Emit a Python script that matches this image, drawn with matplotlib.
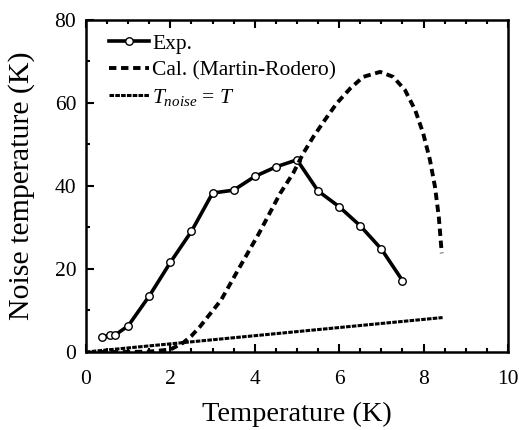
import numpy as np
import matplotlib
matplotlib.use('Agg')
import matplotlib.pyplot as plt
from matplotlib.ticker import MultipleLocator

# ── Data ────────────────────────────────────────────────────────────────
exp_T = [0.37, 0.57, 0.69, 1.0, 1.5, 2.0, 2.5, 3.0, 3.5, 4.0, 4.5, 5.0,
         5.5, 6.0, 6.5, 7.0, 7.5]
exp_noise = [3.5, 4.1, 4.1, 6.3, 13.5, 21.6, 29.1, 38.3, 39.0, 42.3, 44.6,
             46.3, 38.8, 35.0, 30.4, 24.8, 17.2]

cal_T = [0.3, 1.0, 1.5, 2.0, 2.3, 2.5, 2.7, 3.2, 3.65, 4.1, 4.6, 4.91,
         5.15, 5.39, 5.66, 5.94, 6.26, 6.57, 6.97, 7.28, 7.56, 7.80, 7.99,
         8.15, 8.27, 8.36, 8.43]
cal_noise = [0.0, 0.0, 0.1, 0.6, 2.2, 3.9, 6.1, 12.5, 20.6, 28.6, 38.2, 43.1,
             47.9, 51.9, 55.9, 59.9, 63.5, 66.3, 67.5, 66.3, 63.1, 58.3, 52.7,
             46.3, 39.8, 32.6, 23.8]

line_T = [0.0, 8.45]
line_noise = [0.0, 8.3]

plt.rcParams['font.family'] = ['Liberation Serif', 'DejaVu Serif']
plt.rcParams['mathtext.fontset'] = 'custom'
plt.rcParams['mathtext.it'] = 'Liberation Serif:italic'
plt.rcParams['mathtext.rm'] = 'Liberation Serif'

fig = plt.figure(figsize=(5.19, 4.30), dpi=100)
ax = fig.add_axes([0.1657, 0.1814, 0.8131, 0.7721])

ax.plot(exp_T, exp_noise, color='black', linewidth=2.6, marker='o',
        markersize=5.4, markerfacecolor='white', markeredgecolor='black',
        markeredgewidth=1.0, label='Exp.')
ax.plot(cal_T, cal_noise, color='black', linewidth=2.8,
        linestyle=(0, (1.9, 1.2)), label='Cal. (Martin-Rodero)')
ax.plot(line_T, line_noise, color='black', linewidth=2.2,
        linestyle=(0, (1.5, 0.4)), label=r'$T_{noise}$ = $T$')

ax.set_xlim(0, 10)
ax.set_ylim(0, 80)
ax.xaxis.set_major_locator(MultipleLocator(2))
ax.xaxis.set_minor_locator(MultipleLocator(0.5))
ax.yaxis.set_major_locator(MultipleLocator(20))
ax.yaxis.set_minor_locator(MultipleLocator(10))
ax.tick_params(which='both', direction='in', top=True, right=False,
               labelsize=15.5, width=1.5)
ax.tick_params(axis='x', which='both', pad=13)
ax.tick_params(axis='y', which='both', pad=7)
ax.tick_params(which='major', length=6)
ax.tick_params(which='minor', length=3)
for s in ax.spines.values():
    s.set_linewidth(1.8)

ax.set_xlabel('Temperature (K)', fontsize=20.5, labelpad=9)
ax.set_ylabel('Noise temperature (K)', fontsize=21.5, labelpad=14)

leg = ax.legend(loc='upper left', fontsize=15.5, frameon=False,
                handlelength=1.85, handletextpad=0.15, labelspacing=0.3,
                borderaxespad=0.0, bbox_to_anchor=(0.035, 0.985))

fig.savefig('out.png', dpi=100)
